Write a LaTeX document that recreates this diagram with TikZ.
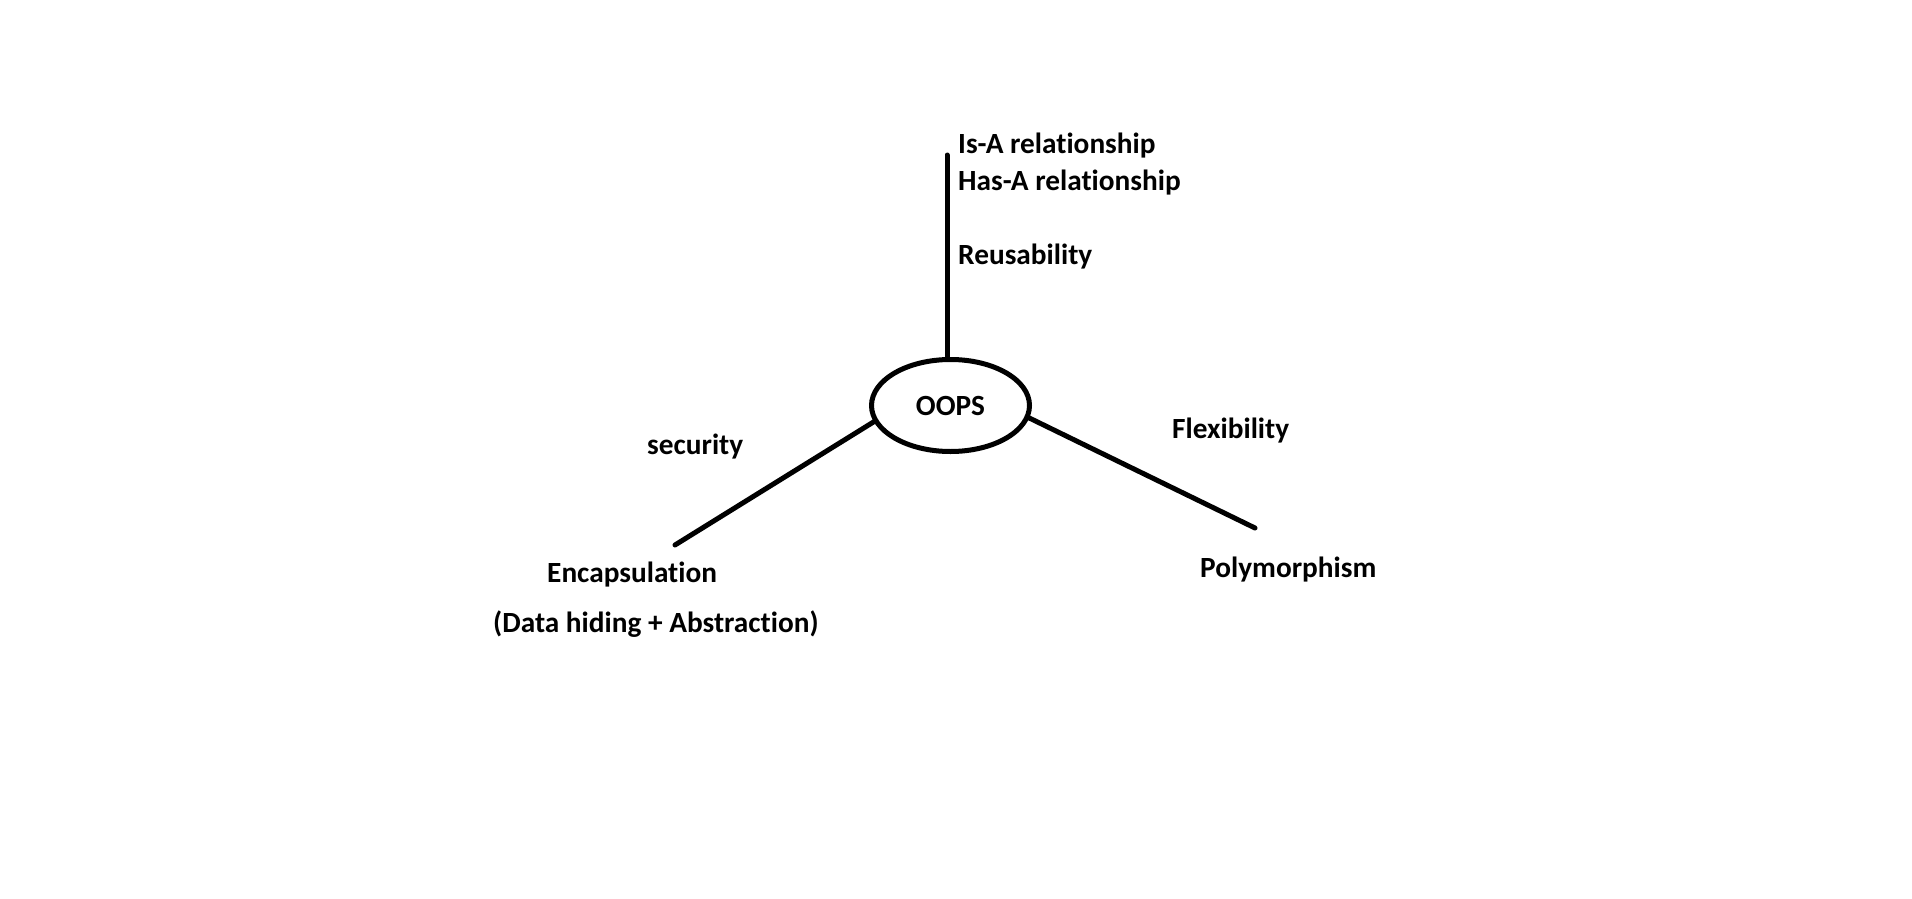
\documentclass[tikz,border=0pt]{standalone}
\usepackage{fontspec}
\setmainfont{Carlito}[Ligatures=NoCommon]
\usetikzlibrary{shapes.geometric}
\begin{document}
\begin{tikzpicture}[x=1pt,y=-1pt,
  conn/.style={line width=5pt, line cap=round},
  lbl/.style={anchor=base west, inner sep=0pt, font=\fontsize{29.3}{35}\selectfont\bfseries},
  hub/.style={ellipse, draw, line width=5pt, minimum width=158pt, minimum height=92pt, inner sep=0pt, font=\fontsize{29.3}{35}\selectfont\bfseries}]
\useasboundingbox (0,0) rectangle (1912,899);
\fill[white] (0,0) rectangle (1912,899);
\node[hub] (oops) at (950.5,405.5) {OOPS};
\coordinate (top) at (947,155);
\coordinate (encend) at (675,545);
\coordinate (polyend) at (1255,528);
\draw[conn] (top) -- (oops.north -| top);
\draw[conn] (oops.192) -- (encend);
\draw[conn] (oops.351) -- (polyend);
\node[lbl] (isa) at (958,153) {Is-A relationship};
\node[lbl] (hasa) at (958,190) {Has-A relationship};
\node[lbl] (reuse) at (958,264) {Reusability};
\node[lbl] (sec) at (647,454) {security};
\node[lbl] (enc) at (547,582) {Encapsulation};
\node[lbl] (dh) at (493,632) {(Data hiding + Abstraction)};
\node[lbl] (flex) at (1172,438) {Flexibility};
\node[lbl] (poly) at (1200,577) {Polymorphism};
\end{tikzpicture}
\end{document}
